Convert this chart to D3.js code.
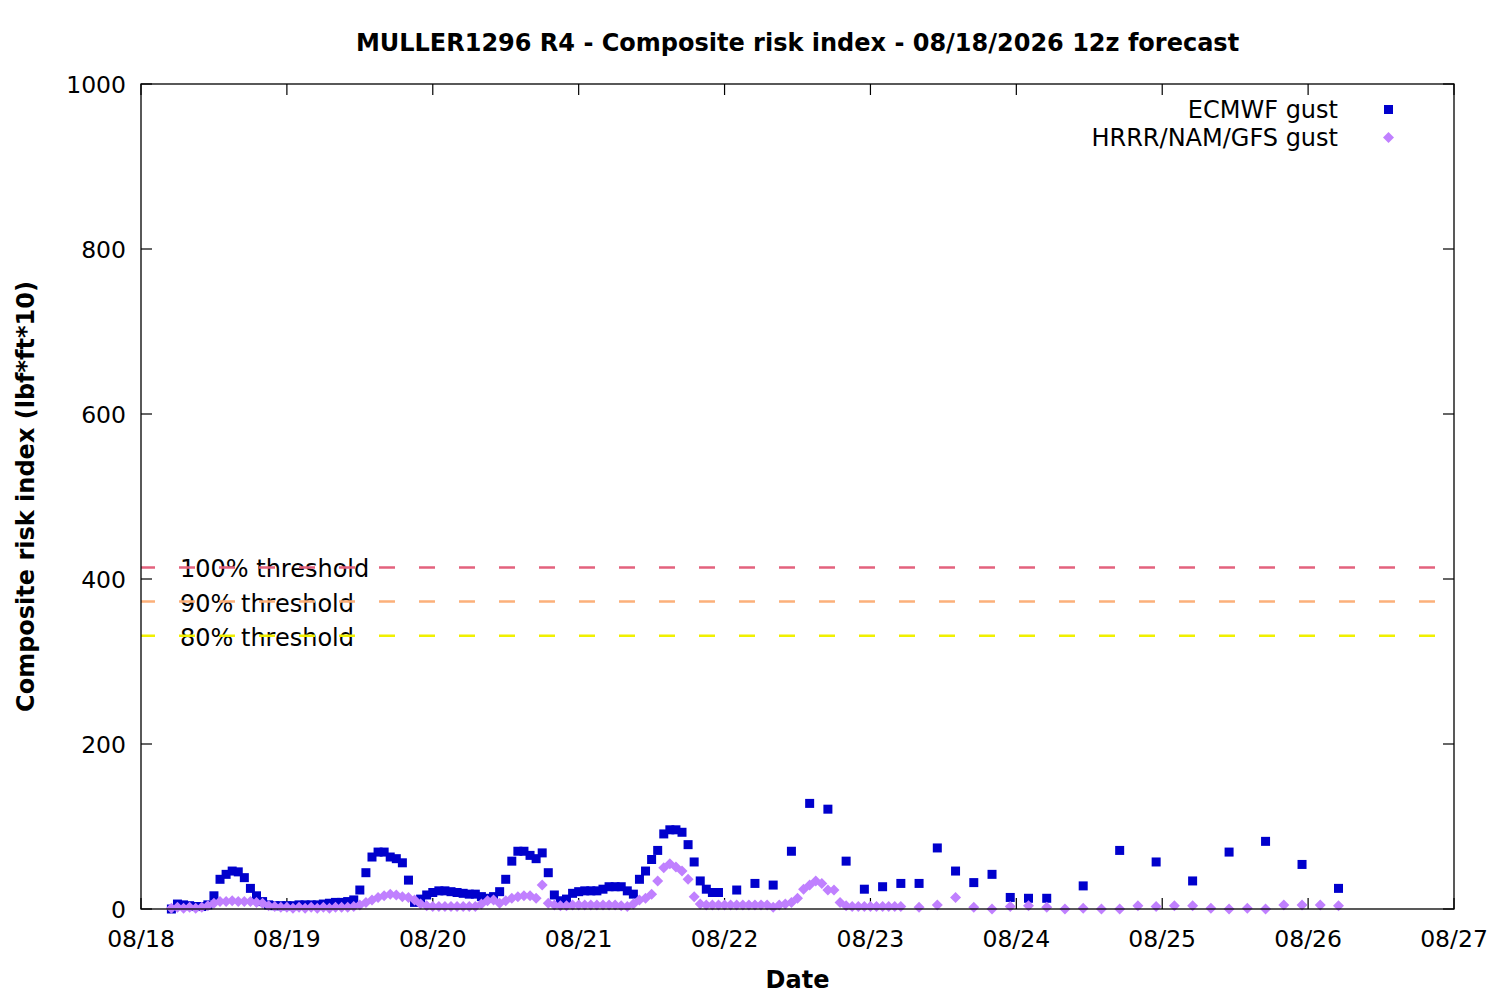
<!DOCTYPE html>
<html>
<head>
<meta charset="utf-8">
<script src="https://cdn.jsdelivr.net/npm/d3@7"></script>
<style>
  body { margin: 0; background: #fff; }
  text { font-family: "DejaVu Sans", sans-serif; fill: #000; }
  .graph-label { font-weight: bold; font-size: 24px; }
  .axis-label { font-weight: bold; font-size: 24px; }
  .tick-label { font-size: 23.5px; }
  .legend-label { font-size: 24px; }
  .thr-label { font-size: 24px; }
</style>
</head>
<body>
<div id="chart"></div>
<script>
// forecast run start (local time) and the step of each block of points
let runStart = Date.UTC(2026, 7, 18, 5);

// ECMWF gust: hourly, then 3-hourly, then 6-hourly
let ecmwfHourly = [0, 6, 5, 4, 3, 3, 5, 16, 36, 42, 46, 45, 38, 25, 16, 9, 5, 4, 4, 4,
  4, 5, 5, 5, 5, 6, 7, 8, 8, 9, 11, 23, 44, 63, 69, 69, 63, 61, 56, 35,
  8, 12, 17, 20, 22, 22, 21, 20, 19, 18, 18, 15, 13, 15, 21, 36, 58, 70, 70, 65,
  61, 68, 44, 17, 10, 12, 19, 21, 22, 22, 22, 24, 27, 27, 27, 22, 18, 36, 46, 60,
  71, 91, 96, 96, 93, 78, 57, 34, 24, 20, 20];
let ecmwf3h = [23, 31, 29, 70, 128, 121, 58, 24, 27, 31, 31, 74, 46, 32, 42, 14, 13, 13];
let ecmwf6h = [28, 71, 57, 34, 69, 82, 54, 25];

// HRRR/NAM/GFS gust: hourly, then 3-hourly
let hrrrHourly = [1, 2, 1, 2, 1, 2, 4, 7, 9, 9, 10, 9, 9, 9, 8, 7, 4, 3, 2, 2,
  1, 2, 1, 2, 1, 2, 1, 2, 2, 2, 3, 5, 8, 11, 14, 16, 18, 17, 15, 14,
  11, 6, 4, 3, 3, 3, 3, 3, 3, 3, 3, 6, 10, 11, 7, 10, 13, 15, 16, 16,
  13, 29, 7, 5, 4, 4, 5, 5, 5, 5, 5, 5, 5, 5, 4, 3, 6, 11, 13, 18,
  34, 50, 55, 51, 46, 36, 15, 6, 5, 5, 5, 5, 5, 5, 5, 5, 5, 5, 5, 2,
  5, 6, 8, 13, 24, 29, 34, 31, 23, 23, 8, 4, 3, 3, 3, 3, 3, 3, 3, 3, 3];
let hrrr3h = [2, 5, 14, 2, 0, 3, 4, 2, 0, 1, 0, 0, 4, 3, 4, 4, 1, 0, 1, 0, 5, 5, 5, 4];

// threshold lines
let thresholdValues = [414, 372.6, 331.2];
let thresholdLabels = ["100% threshold", "90% threshold", "80% threshold"];
let thresholdColors = ["#e3627d", "#fcb07a", "#f0f000"];

let yTicks = [0, 200, 400, 600, 800, 1000];
let seriesNames = ["ECMWF gust", "HRRR/NAM/GFS gust"];
let titleText = "MULLER1296 R4 - Composite risk index - 08/18/2026 12z forecast";

// turn blocks of values into {date, value} points
function block(values, firstHour, step) {
    return values.map((v, i) => ({date: new Date(runStart + (firstHour + i * step) * 3600e3), value: v}));
}
let ecmwf = block(ecmwfHourly, 0, 1)
    .concat(block(ecmwf3h, 93, 3))
    .concat(block(ecmwf6h, 150, 6));
let hrrr = block(hrrrHourly, 0, 1)
    .concat(block(hrrr3h, 123, 3));

// margins
let margin = {top: 84, right: 46, bottom: 91, left: 141};
let width = 1500 - margin.left - margin.right;
let height = 1000 - margin.top - margin.bottom;

let svgRoot = d3.select("#chart")
    .append("svg")
    .attr("width", 1500)
    .attr("height", 1000);
let svg = svgRoot.append("g")
    .attr("transform", "translate(" + margin.left + "," + margin.top + ")");

let x = d3.scaleUtc()
    .domain([new Date(Date.UTC(2026, 7, 18)), new Date(Date.UTC(2026, 7, 27))])
    .range([0, width]);
let y = d3.scaleLinear()
    .domain([0, 1000])
    .range([height, 0]);

let xTicks = d3.utcDay.range(x.domain()[0], d3.utcDay.offset(x.domain()[1], 1));
let fmt = d3.utcFormat("%m/%d");
let tickLen = 11;

// threshold labels first, the dashed lines run over them
thresholdValues.forEach((t, i) => {
    svg.append("text")
        .attr("class", "thr-label")
        .attr("x", 39)
        .attr("y", y(t) + 10)
        .text(thresholdLabels[i]);
    svg.append("line")
        .attr("x1", 0)
        .attr("x2", width)
        .attr("y1", y(t))
        .attr("y2", y(t))
        .attr("stroke", thresholdColors[i])
        .attr("stroke-width", 2.5)
        .attr("stroke-dasharray", "16,24")
        .attr("stroke-dashoffset", 2);
});

// ticks on all four sides (inward)
svg.selectAll(".ytick-l").data(yTicks).enter().append("line")
    .attr("x1", 0).attr("x2", tickLen)
    .attr("y1", d => y(d)).attr("y2", d => y(d))
    .attr("stroke", "#000").attr("stroke-width", 1.2);
svg.selectAll(".ytick-r").data(yTicks).enter().append("line")
    .attr("x1", width - tickLen).attr("x2", width)
    .attr("y1", d => y(d)).attr("y2", d => y(d))
    .attr("stroke", "#000").attr("stroke-width", 1.2);
svg.selectAll(".xtick-b").data(xTicks).enter().append("line")
    .attr("x1", d => x(d)).attr("x2", d => x(d))
    .attr("y1", height - tickLen).attr("y2", height)
    .attr("stroke", "#000").attr("stroke-width", 1.2);
svg.selectAll(".xtick-t").data(xTicks).enter().append("line")
    .attr("x1", d => x(d)).attr("x2", d => x(d))
    .attr("y1", 0).attr("y2", tickLen)
    .attr("stroke", "#000").attr("stroke-width", 1.2);

// tick labels
svg.selectAll(".ylab").data(yTicks).enter().append("text")
    .attr("class", "tick-label")
    .attr("x", -15)
    .attr("y", d => y(d) + 9)
    .style("text-anchor", "end")
    .text(d => d);
svg.selectAll(".xlab").data(xTicks).enter().append("text")
    .attr("class", "tick-label")
    .attr("x", d => x(d))
    .attr("y", height + 38)
    .style("text-anchor", "middle")
    .text(d => fmt(d));

// ECMWF squares
svg.selectAll(".ecmwf").data(ecmwf).enter().append("rect")
    .attr("x", d => x(d.date) - 4.5)
    .attr("y", d => y(d.value) - 4.5)
    .attr("width", 9)
    .attr("height", 9)
    .attr("fill", "#0000cc");

// HRRR diamonds on top
let diamond = "M0,-5.5L5.5,0L0,5.5L-5.5,0Z";
svg.selectAll(".hrrr").data(hrrr).enter().append("path")
    .attr("d", diamond)
    .attr("transform", d => "translate(" + x(d.date) + "," + y(d.value) + ")")
    .attr("fill", "#c080ff");

// frame
svg.append("rect")
    .attr("width", width)
    .attr("height", height)
    .attr("fill", "none")
    .attr("stroke", "#000")
    .attr("stroke-width", 1.3);

// legend
let legend = svg.append("g");
seriesNames.forEach((name, i) => {
    legend.append("text")
        .attr("class", "legend-label")
        .attr("x", 1197)
        .attr("y", 34 + i * 28)
        .style("text-anchor", "end")
        .text(name);
});
legend.append("rect")
    .attr("x", 1247.5 - 4.5).attr("y", 25.5 - 4.5)
    .attr("width", 9).attr("height", 9)
    .attr("fill", "#0000cc");
legend.append("path")
    .attr("d", diamond)
    .attr("transform", "translate(1247.5,53.5)")
    .attr("fill", "#c080ff");

// title and axis labels
svgRoot.append("text")
    .attr("class", "graph-label")
    .attr("x", margin.left + width / 2)
    .attr("y", 51)
    .style("text-anchor", "middle")
    .text(titleText);
svgRoot.append("text")
    .attr("class", "axis-label")
    .attr("x", margin.left + width / 2)
    .attr("y", 988)
    .style("text-anchor", "middle")
    .text("Date");
svgRoot.append("text")
    .attr("class", "axis-label")
    .attr("transform", "translate(34," + (margin.top + height / 2) + ") rotate(-90)")
    .style("text-anchor", "middle")
    .text("Composite risk index (lbf*ft*10)");
</script>
</body>
</html>
